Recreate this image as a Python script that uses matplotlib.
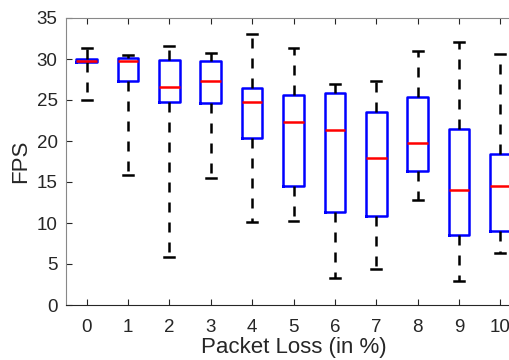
import matplotlib.pyplot as plt

plt.rcParams['font.family'] = ['Liberation Sans', 'DejaVu Sans']

loss = [0, 1, 2, 3, 4, 5, 6, 7, 8, 9, 10]
whislo = [25.0, 15.9, 5.9, 15.45, 10.15, 10.2, 3.25, 4.35, 12.8, 2.9, 6.3]
q1 = [29.6, 27.3, 24.7, 24.6, 20.4, 14.5, 11.4, 10.85, 16.3, 8.5, 9.05]
med = [29.8, 29.75, 26.6, 27.3, 24.8, 22.3, 21.4, 17.9, 19.8, 14.0, 14.5]
q3 = [30.0, 30.1, 29.9, 29.7, 26.5, 25.6, 25.9, 23.5, 25.4, 21.5, 18.4]
whishi = [31.4, 30.45, 31.6, 30.7, 33.0, 31.4, 26.9, 27.3, 31.0, 32.1, 30.6]

stats = []
for i in range(len(loss)):
    stats.append({'whislo': whislo[i], 'q1': q1[i], 'med': med[i],
                  'q3': q3[i], 'whishi': whishi[i], 'fliers': []})

fig = plt.figure(figsize=(5.09, 3.6), dpi=100)
# axes run past the right edge, as in the cropped original
ax = fig.add_axes([66 / 509, 55 / 360, 455 / 509, 287 / 360])

ax.bxp(stats, positions=loss, widths=0.5, showfliers=False,
       boxprops=dict(color='blue', linewidth=1.8),
       medianprops=dict(color='red', linewidth=1.8),
       whiskerprops=dict(color='black', linewidth=1.8, linestyle=(0, (4, 4))),
       capprops=dict(color='black', linewidth=1.8),
       capwidths=0.24)

ax.set_xlim(-0.5, 10.5)
ax.set_ylim(0, 35)
ax.set_xticks(loss)
ax.set_xticklabels([str(v) for v in loss])
ax.set_yticks(range(0, 36, 5))
ax.tick_params(direction='in', length=4, labelsize=13.5, colors='#262626',
               top=True, right=True, pad=6)
ax.tick_params(axis='x', pad=10)
for s in ax.spines.values():
    s.set_color('#262626')
    s.set_linewidth(0.8)
ax.spines['top'].set_color('#888888')
ax.spines['left'].set_color('#888888')
ax.set_xlabel('Packet Loss (in %)', fontsize=16, color='#262626', labelpad=1)
ax.set_ylabel('FPS', fontsize=16, color='#262626', labelpad=4)

fig.savefig('out.png', dpi=100)
